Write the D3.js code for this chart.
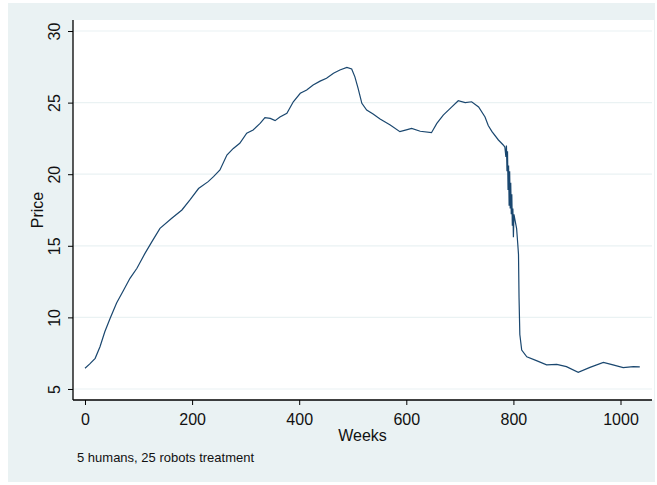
<!DOCTYPE html>
<html>
<head>
<meta charset="utf-8">
<script src="https://cdn.jsdelivr.net/npm/d3@7"></script>
<style>
  body { margin: 0; background: #fff; }
  text { font-family: "Liberation Sans", Arial, sans-serif; fill: #111; }
</style>
</head>
<body>
<svg width="657" height="485"></svg>
<script>
// price path (week, price)
var weeks = [0, 9, 19, 28, 37, 47, 59, 72, 84, 97, 112, 125, 140, 162, 181, 196, 212, 230, 240, 252,
  265, 277, 289, 302, 314, 327, 336, 346, 355, 364, 377, 389, 402, 414, 426, 439, 451, 464, 476, 489,
  498, 504, 510, 517, 526, 538, 551, 570, 588, 600, 610, 626, 647, 657, 669, 685, 697, 710, 722, 735,
  747, 753, 760, 772, 781, 784, 786, 787, 788, 789, 790, 791, 792, 793, 794, 795, 796, 797, 798, 799,
  800, 801, 803, 806, 808, 809.5, 810.5, 812, 815.5, 825, 843, 862, 881, 899, 921, 943, 968, 986, 1005, 1024, 1036];
var price = [6.45, 6.75, 7.14, 7.95, 9.0, 9.94, 11.0, 11.9, 12.73, 13.43, 14.47, 15.29, 16.22, 16.92, 17.5, 18.2, 19.0, 19.48, 19.83, 20.3,
  21.34, 21.8, 22.16, 22.86, 23.09, 23.55, 23.95, 23.9, 23.74, 24.0, 24.25, 25.06, 25.65, 25.88, 26.23, 26.5, 26.7, 27.05, 27.28, 27.46,
  27.35, 26.8, 26.0, 24.95, 24.48, 24.2, 23.85, 23.44, 22.97, 23.1, 23.2, 23.0, 22.9, 23.55, 24.13, 24.7, 25.13, 25.0, 25.06, 24.7,
  24.0, 23.4, 22.97, 22.39, 22.04, 21.9, 21.2, 22.0, 20.2, 21.6, 18.9, 20.6, 17.8, 20.2, 17.6, 19.4, 17.2, 18.6, 16.4, 17.6,
  15.6, 17.2, 16.8, 16.2, 15.2, 14.4, 11.4, 8.8, 7.72, 7.25, 6.98, 6.68, 6.72, 6.56, 6.16, 6.51, 6.86, 6.68, 6.49, 6.56, 6.55];

var xTicks = [0, 200, 400, 600, 800, 1000];
var yTicks = [5, 10, 15, 20, 25, 30];
var note = '5 humans, 25 robots treatment';

var svg = d3.select('svg');

// plot box
var pLeft = 73, pRight = 652, pTop = 20, pBottom = 400;

var x = d3.scaleLinear().domain([-22.4, 1058.8]).range([pLeft, pRight]);
var y = d3.scaleLinear().domain([4.23, 30.77]).range([pBottom, pTop]);

// stata style background
svg.append('rect')
    .attr('x', 8).attr('y', 3)
    .attr('width', 647).attr('height', 479)
    .style('fill', '#eaf2f3');

svg.append('rect')
    .attr('x', pLeft).attr('y', pTop)
    .attr('width', 581).attr('height', pBottom - pTop)
    .style('fill', '#fff');

// grid
svg.append('g')
    .selectAll('line')
    .data(yTicks)
    .enter().append('line')
    .attr('x1', pLeft).attr('x2', pRight)
    .attr('y1', d => y(d)).attr('y2', d => y(d))
    .style('stroke', '#eaf2f3')
    .style('stroke-width', 1.2);

// axes
var yAxis = svg.append('g')
    .attr('transform', 'translate(' + pLeft + ',0)')
    .call(d3.axisLeft(y).tickValues(yTicks).tickSize(5).tickPadding(0).tickFormat(d3.format('d')));

yAxis.selectAll('text')
    .attr('x', null).attr('dy', null)
    .attr('transform', 'translate(-13,0) rotate(-90)')
    .style('text-anchor', 'middle')
    .style('font-size', '16px');

var xAxis = svg.append('g')
    .attr('transform', 'translate(0,' + pBottom + ')')
    .call(d3.axisBottom(x).tickValues(xTicks).tickSize(5).tickPadding(9).tickFormat(d3.format('d')));

xAxis.selectAll('text')
    .style('font-size', '16px');

svg.selectAll('.domain')
    .style('stroke', '#000')
    .style('stroke-width', 1.3);
svg.selectAll('.tick line')
    .style('stroke', '#000')
    .style('stroke-width', 1);

// domain lines without end caps
yAxis.select('.domain').attr('d', 'M0,' + pTop + 'V' + pBottom);
xAxis.select('.domain').attr('d', 'M' + pLeft + ',0H' + pRight);

// the line
var pts = weeks.map((w, i) => [w, price[i]]);

svg.append('path')
    .datum(pts)
    .attr('d', d3.line().x(d => x(d[0])).y(d => y(d[1])))
    .style('fill', 'none')
    .style('stroke', '#1a476f')
    .style('stroke-width', 1.2);

// titles
svg.append('text')
    .text('Price')
    .attr('transform', 'translate(43,' + ((pTop + pBottom) / 2) + ') rotate(-90)')
    .style('text-anchor', 'middle')
    .style('font-size', '16px');

svg.append('text')
    .text('Weeks')
    .attr('x', (pLeft + pRight) / 2)
    .attr('y', 441)
    .style('text-anchor', 'middle')
    .style('font-size', '16px');

svg.append('text')
    .text(note)
    .attr('x', 77)
    .attr('y', 462)
    .style('font-size', '13px');
</script>
</body>
</html>
